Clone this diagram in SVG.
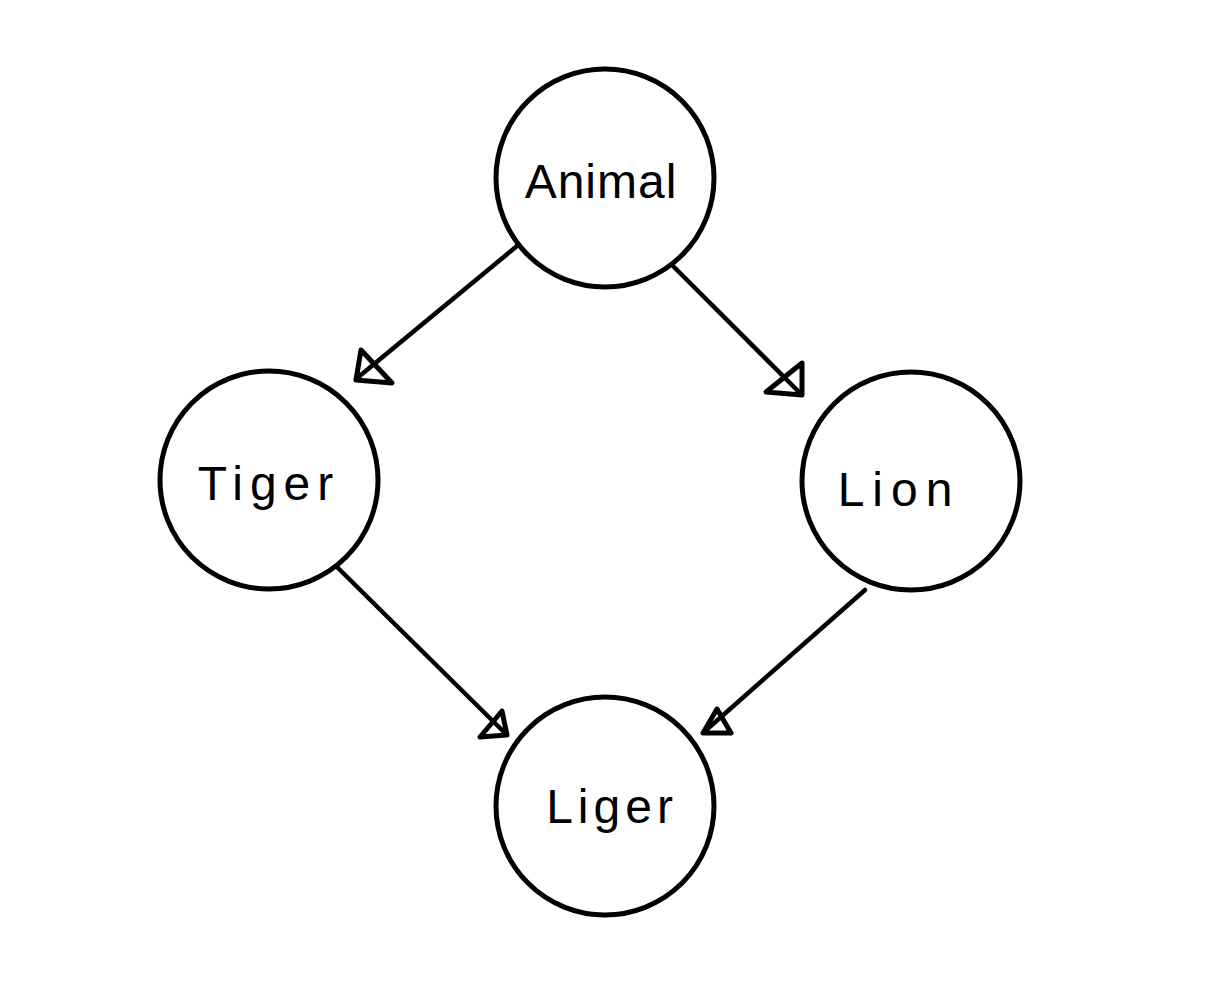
<svg xmlns="http://www.w3.org/2000/svg" width="1207" height="1000" viewBox="0 0 1207 1000">
<style>
.node circle{fill:#fff;stroke:#000;stroke-width:5}
.node text{font-family:"Liberation Sans","DejaVu Sans",sans-serif;font-size:48px;fill:#000;text-anchor:middle}
.edge line{stroke:#000;stroke-width:4.5;stroke-linecap:round}
.edge polygon{fill:none;stroke:#000;stroke-width:5;stroke-linejoin:round}
</style>
<rect width="1207" height="1000" fill="#fff"/>
<g id="connectors">
<g class="edge" id="e-animal-tiger"><line x1="517" y1="246" x2="356" y2="379"/><polygon points="356,380 361,350 392,383"/></g>
<g class="edge" id="e-animal-lion"><line x1="673" y1="266" x2="801" y2="394"/><polygon points="802,395 802,363 766,392"/></g>
<g class="edge" id="e-tiger-liger"><line x1="338" y1="568" x2="506" y2="734"/><polygon points="507,735 502,711 480,737"/></g>
<g class="edge" id="e-lion-liger"><line x1="865" y1="590" x2="704" y2="732"/><polygon points="703,733 717,709 731,733"/></g>
</g>
<g class="node" id="n-animal"><circle cx="605" cy="178" r="109"/><text x="601" y="198" letter-spacing="1">Animal</text></g>
<g class="node" id="n-tiger"><circle cx="269" cy="480" r="109"/><text x="269" y="500" letter-spacing="7">Tiger</text></g>
<g class="node" id="n-lion"><circle cx="911" cy="481" r="109"/><text x="899" y="506" letter-spacing="8">Lion</text></g>
<g class="node" id="n-liger"><circle cx="605" cy="806" r="109"/><text x="612" y="823" letter-spacing="5">Liger</text></g>
</svg>
